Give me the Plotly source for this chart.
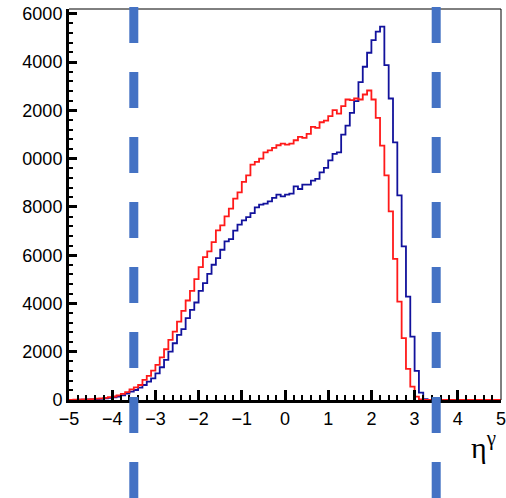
import plotly.graph_objects as go

# ---- data -------------------------------------------------------------
eta_min = -5.0
bin_width = 0.1
n_bins = 100
bin_edges = [round(eta_min + bin_width * i, 2) for i in range(n_bins + 1)]

red_counts = [
    5, 10, 15, 20, 30, 40, 55, 70, 90, 115, 145, 190, 250, 330,
    444, 527, 622, 830, 996, 1217, 1452, 1770, 2102, 2490, 2836, 3251, 3694, 4122, 4523,
    5008, 5506, 5921, 6154, 6544, 7026, 7234, 7607, 7927, 8342, 8604, 9035, 9309, 9753,
    9864, 10002, 10263, 10346, 10446, 10554, 10624,
    10583, 10624, 10762, 10900, 10859, 11025, 11315, 11274, 11508, 11579, 11758, 12007,
    11869, 12173, 12450, 12422, 12492, 12450, 12657, 12823, 12450, 11691, 10541, 9309,
    7815, 5851, 4080, 2560, 1286, 553, 138, 20, 0,
    0, 0, 0, 0, 0, 0, 0, 0, 0, 0, 0, 0, 0, 0, 0, 0, 0,
]

blue_counts = [
    3, 6, 10, 14, 20, 28, 38, 50, 65, 85, 110, 145, 190, 260,
    346, 415, 512, 622, 761, 899, 1107, 1356, 1660, 2006, 2351, 2698, 2933, 3389, 3735,
    4039, 4523, 4841, 5229, 5603, 5878, 6225, 6569, 6669, 7014, 7263, 7441, 7580, 7746,
    7981, 8093, 8134, 8230, 8371, 8508, 8439,
    8508, 8549, 8853, 8743, 8923, 8923, 9089, 9159, 9433, 9615, 9932, 10194, 10263,
    10998, 11371, 11898, 12380, 13168, 13807, 14387, 14911, 15259, 15467, 13878, 12492,
    10678, 8480, 6362, 4287, 2627, 1204, 303, 40,
    0, 0, 0, 0, 0, 0, 0, 0, 0, 0, 0, 0, 0, 0, 0, 0, 0,
]

x_tickvals = [-5, -4, -3, -2, -1, 0, 1, 2, 3, 4, 5]
y_tickvals = [0, 2000, 4000, 6000, 8000, 10000, 12000, 14000, 16000]
y_ticktext = ["6000"[0:0] + "0", "2000", "4000", "6000", "8000", "0000", "2000", "4000", "6000"]
x_minor_step = 0.2
y_minor_step = 400
cut_lines = [-3.5, 3.5]

x_range = [-5, 5]
y_range = [0, 16200]

# ---- figure -----------------------------------------------------------
fig = go.Figure()

for counts, color in [(blue_counts, "#12129c"), (red_counts, "#ff1a1a")]:
    fig.add_trace(go.Scatter(
        x=bin_edges,
        y=counts + [counts[-1]],
        mode="lines",
        line=dict(color=color, width=1.8, shape="hv"),
        hoverinfo="skip",
        showlegend=False,
    ))

font_main = dict(family="Liberation Sans, Arial, sans-serif", size=18, color="black")

fig.update_layout(
    template="none",
    width=506, height=498,
    margin=dict(l=69, r=5, t=9, b=98, pad=0),
    paper_bgcolor="white", plot_bgcolor="white",
    font=font_main,
    xaxis=dict(
        range=x_range, tickmode="array", tickvals=x_tickvals,
        showline=True, linewidth=3, linecolor="black", mirror=False,
        ticks="inside", ticklen=10, tickwidth=2.5, tickcolor="black",
        minor=dict(ticks="inside", ticklen=5, tickwidth=2, tickcolor="black", dtick=x_minor_step),
        showgrid=False, zeroline=False, tickfont=font_main,
        ticklabeloverflow="allow", automargin=False,
    ),
    yaxis=dict(
        range=y_range, tickmode="array", tickvals=y_tickvals, ticktext=y_ticktext,
        showline=True, linewidth=3, linecolor="black", mirror=False,
        ticks="inside", ticklen=8, tickwidth=2.5, tickcolor="black",
        minor=dict(ticks="inside", ticklen=4, tickwidth=2, tickcolor="black", dtick=y_minor_step),
        showgrid=False, zeroline=False, tickfont=font_main,
        ticklabeloverflow="allow", automargin=False,
    ),
)

shapes = []
# thin frame on top and right
shapes.append(dict(type="line", xref="paper", yref="paper", x0=0, x1=1, y0=1, y1=1,
                   line=dict(color="black", width=1)))
shapes.append(dict(type="line", xref="paper", yref="paper", x0=1, x1=1, y0=0, y1=1,
                   line=dict(color="black", width=1)))
# dashed cut lines
for xc in cut_lines:
    shapes.append(dict(type="line", xref="x", yref="paper", x0=xc, x1=xc, y0=1.005, y1=-0.27,
                       line=dict(color="#4472c4", width=9, dash="36px,29px"), layer="above"))

fig.update_layout(
    shapes=shapes,
    annotations=[dict(
        text="η<sup>γ</sup>", xref="paper", yref="paper",
        x=0.992, y=-0.115, xanchor="right", yanchor="middle",
        showarrow=False,
        font=dict(family="Liberation Serif, Times New Roman, serif", size=30, color="black"),
    )],
)

fig.write_html("out.html")
